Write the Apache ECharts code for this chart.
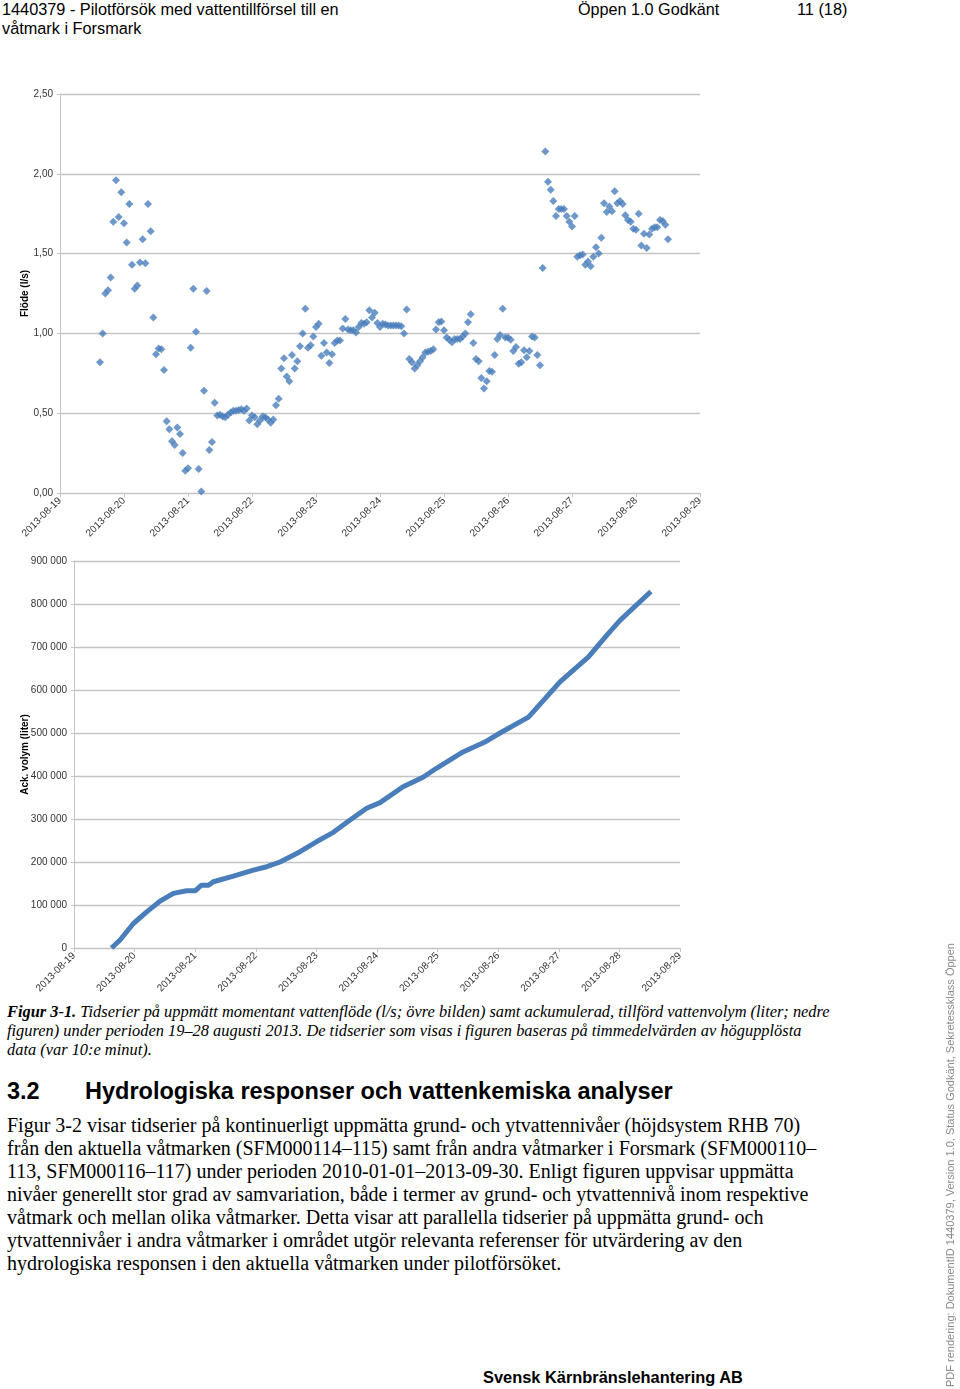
<!DOCTYPE html>
<html>
<head>
<meta charset="utf-8">
<script src="https://cdn.jsdelivr.net/npm/echarts/dist/echarts.min.js"></script>
<style>
  body { margin: 0; background: #fff; width: 960px; height: 1389px; position: relative; overflow: hidden; }
  .t { position: absolute; white-space: nowrap; color: #000; }
  .sans { font-family: 'Liberation Sans', Arial, sans-serif; }
  .serif { font-family: 'Liberation Serif', 'Times New Roman', serif; }
</style>
</head>
<body>
<div class="t sans" style="left:2px;top:0;font-size:16.3px;line-height:19px">1440379 - Pilotförsök med vattentillförsel till en<br>våtmark i Forsmark</div>
<div class="t sans" style="left:578px;top:0;font-size:16.2px;line-height:19px">Öppen 1.0 Godkänt</div>
<div class="t sans" style="left:797px;top:0;font-size:16.3px;line-height:19px">11 (18)</div>

<div id="flow" style="position:absolute;left:0;top:70px;width:960px;height:475px"></div>
<div id="volume" style="position:absolute;left:0;top:545px;width:960px;height:455px"></div>

<div class="t serif" style="left:7px;top:1002px;font-size:16.4px;line-height:19px;font-style:italic"><b>Figur 3-1.</b> Tidserier på uppmätt momentant vattenflöde (l/s; övre bilden) samt ackumulerad, tillförd vattenvolym (liter; nedre<br>figuren) under perioden 19–28 augusti 2013. De tidserier som visas i figuren baseras på timmedelvärden av högupplösta<br>data (var 10:e minut).</div>

<div class="t sans" style="left:7px;top:1077px;font-size:23.5px;line-height:28px;font-weight:bold">3.2</div>
<div class="t sans" style="left:85px;top:1077px;font-size:23.5px;line-height:28px;font-weight:bold">Hydrologiska responser och vattenkemiska analyser</div>

<div class="t serif" style="left:7px;top:1114px;font-size:20px;line-height:23px">Figur 3-2 visar tidserier på kontinuerligt uppmätta grund- och ytvattennivåer (höjdsystem RHB 70)<br>från den aktuella våtmarken (SFM000114–115) samt från andra våtmarker i Forsmark (SFM000110–<br>113, SFM000116–117) under perioden 2010-01-01–2013-09-30. Enligt figuren uppvisar uppmätta<br>nivåer generellt stor grad av samvariation, både i termer av grund- och ytvattennivå inom respektive<br>våtmark och mellan olika våtmarker. Detta visar att parallella tidserier på uppmätta grund- och<br>ytvattennivåer i andra våtmarker i området utgör relevanta referenser för utvärdering av den<br>hydrologiska responsen i den aktuella våtmarken under pilotförsöket.</div>

<div class="t sans" style="left:944px;top:1387px;font-size:11px;line-height:13px;color:#888;transform:rotate(-90deg);transform-origin:0 0">PDF rendering: DokumentID 1440379, Version 1.0, Status Godkänt, Sekretessklass Öppen</div>

<div class="t sans" style="left:483px;top:1367px;font-size:16.4px;line-height:20px;font-weight:bold">Svensk Kärnbränslehantering AB</div>

<script>
// dagar på x-axeln (dag 0 = 2013-08-19)
const dateLabels = ['2013-08-19', '2013-08-20', '2013-08-21', '2013-08-22', '2013-08-23', '2013-08-24',
  '2013-08-25', '2013-08-26', '2013-08-27', '2013-08-28', '2013-08-29']

// timmedelvärden av flöde (l/s), första värdet kl 15 den 19:e
const flowStartHour = 15
const flowValues = [
  0.82, 1.00, 1.25, 1.27, 1.35, 1.70, 1.96, 1.73, 1.885, 1.69, 1.57, 1.81, 1.43, 1.28, 1.30, 1.445, 1.59, 1.44, 1.81, 1.64,
  1.10, 0.87, 0.905, 0.90, 0.77, 0.45, 0.40, 0.325, 0.30, 0.41, 0.37, 0.25, 0.14, 0.155, 0.91, 1.28, 1.01, 0.15, 0.01, 0.64,
  1.265, 0.27, 0.32, 0.566, 0.485, 0.49, 0.48, 0.475, 0.49, 0.505, 0.515, 0.515, 0.52, 0.525, 0.515, 0.53, 0.455, 0.485, 0.475, 0.43,
  0.455, 0.48, 0.475, 0.46, 0.44, 0.46, 0.55, 0.59, 0.78, 0.845, 0.73, 0.70, 0.865, 0.78, 0.825, 0.92, 1.00, 1.155, 0.91, 0.925,
  0.98, 1.04, 1.06, 0.86, 0.94, 0.88, 0.815, 0.87, 0.94, 0.955, 0.955, 1.03, 1.09, 1.025, 1.02, 1.02, 1.005, 1.04, 1.065, 1.06,
  1.07, 1.145, 1.10, 1.13, 1.065, 1.04, 1.06, 1.055, 1.05, 1.05, 1.05, 1.05, 1.05, 1.045, 1.00, 1.15, 0.84, 0.82, 0.78, 0.80,
  0.825, 0.85, 0.88, 0.885, 0.89, 0.90, 1.025, 1.07, 1.075, 1.02, 0.975, 0.96, 0.945, 0.965, 0.965, 0.965, 0.98, 1.00, 1.07, 1.12,
  0.94, 0.84, 0.825, 0.72, 0.655, 0.70, 0.765, 0.76, 0.865, 0.965, 0.99, 1.155, 0.975, 0.975, 0.96, 0.89, 0.915, 0.81, 0.82, 0.895,
  0.85, 0.89, 0.98, 0.975, 0.865, 0.80, 1.41, 2.14, 1.95, 1.90, 1.83, 1.735, 1.78, 1.78, 1.78, 1.735, 1.70, 1.67, 1.735, 1.48,
  1.49, 1.495, 1.43, 1.45, 1.42, 1.48, 1.54, 1.50, 1.60, 1.815, 1.76, 1.795, 1.765, 1.89, 1.815, 1.83, 1.81, 1.74, 1.71, 1.70,
  1.655, 1.65, 1.75, 1.55, 1.625, 1.535, 1.62, 1.655, 1.665, 1.665, 1.71, 1.705, 1.68, 1.59
]

// ackumulerad volym (liter) avläst längs kurvan
const volDays = [0.62, 0.76, 0.98, 1.2, 1.42, 1.64, 1.86, 2.0, 2.1, 2.22, 2.3, 2.63, 2.96, 3.18, 3.4, 3.73, 4.0,
  4.28, 4.55, 4.83, 5.05, 5.43, 5.76, 5.98, 6.42, 6.78, 7.03, 7.5, 8.02, 8.49, 8.79, 9.01, 9.52]
const volLiters = [0, 18600, 57000, 84000, 109000, 127000, 133000, 133000, 146000, 146000, 154000, 167000, 181000,
  189000, 200000, 224000, 247000, 269000, 297000, 325000, 338000, 375000, 397000, 418000, 456000, 479000, 500000,
  537000, 619000, 677000, 727000, 762000, 829000]

const blue = '#4a7ebb'
const gridGray = '#c4c4c4'
const labelColor = '#333'

function dateAxis() {
  return {
    type: 'value', min: 0, max: 10, interval: 1,
    axisLine: { show: true, lineStyle: { color: gridGray, width: 1 } },
    axisTick: { show: true, length: 4, lineStyle: { color: gridGray } },
    splitLine: { show: false },
    axisLabel: {
      rotate: 45, margin: 6, color: labelColor, fontSize: 10, fontFamily: 'Liberation Sans',
      formatter: v => dateLabels[v] || ''
    }
  }
}

function valueAxis(opts) {
  return Object.assign({
    type: 'value',
    nameLocation: 'middle', nameRotate: 90, nameMoveOverlap: false,
    nameTextStyle: { color: '#000', fontSize: 10, fontWeight: 'bold', fontFamily: 'Liberation Sans' },
    axisLine: { show: true, lineStyle: { color: gridGray, width: 1 } },
    axisTick: { show: true, length: 3, lineStyle: { color: gridGray } },
    splitLine: { show: true, lineStyle: { color: gridGray, width: 1.3 } },
    axisLabel: { color: labelColor, fontSize: 10, margin: 7, fontFamily: 'Liberation Sans' }
  }, opts)
}

const flowData = flowValues.map((v, i) => [(flowStartHour + i) / 24, v])
const volData = volDays.map((d, i) => [d, volLiters[i]])

const flowChart = echarts.init(document.getElementById('flow'))
flowChart.setOption({
  animation: false,
  grid: { left: 60, right: 260, top: 24, bottom: 52 },
  xAxis: dateAxis(),
  yAxis: valueAxis({
    min: 0, max: 2.5, interval: 0.5, name: 'Flöde (l/s)', nameGap: 30,
    axisLabel: { color: labelColor, fontSize: 10, margin: 7, fontFamily: 'Liberation Sans', formatter: v => v.toFixed(2).replace('.', ',') }
  }),
  series: [{
    type: 'scatter', data: flowData, symbol: 'diamond', symbolSize: 8,
    itemStyle: { color: blue }
  }]
})

const volChart = echarts.init(document.getElementById('volume'))
volChart.setOption({
  animation: false,
  grid: { left: 74, right: 280, top: 16, bottom: 52 },
  xAxis: dateAxis(),
  yAxis: valueAxis({
    min: 0, max: 900000, interval: 100000, name: 'Ack. volym (liter)', nameGap: 44,
    axisLabel: { color: labelColor, fontSize: 10, margin: 7, fontFamily: 'Liberation Sans', formatter: v => String(v).replace(/\B(?=(\d{3})+(?!\d))/g, ' ') }
  }),
  series: [{
    type: 'line', data: volData, showSymbol: false,
    lineStyle: { color: blue, width: 5 }, itemStyle: { color: blue }
  }]
})
</script>
</body>
</html>
